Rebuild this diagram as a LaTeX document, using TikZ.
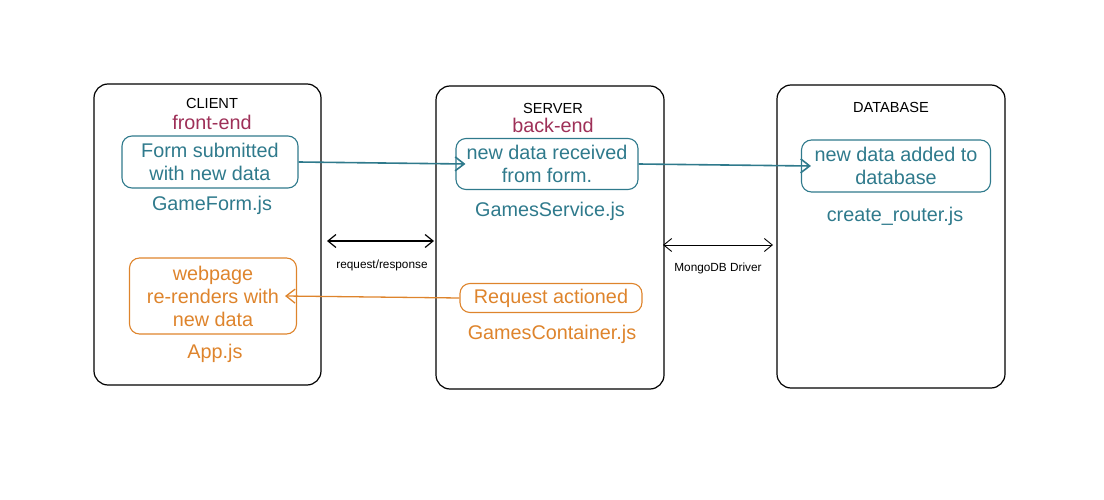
\documentclass[tikz,border=0pt]{standalone}
\usepackage{fontspec}
\setmainfont{Liberation Sans}
\usetikzlibrary{arrows.meta}
\definecolor{tealc}{RGB}{47,122,140}
\definecolor{orangec}{RGB}{222,132,44}
\definecolor{maroonc}{RGB}{158,48,88}

\begin{document}
\begin{tikzpicture}[x=1pt, y=-1pt,
    tier/.style={draw, line width=1.2pt, rounded corners=14pt},
    step box/.style={draw, line width=1.1pt, rounded corners=10pt, align=center,
      font=\fontsize{19.8}{23}\selectfont, inner sep=0pt},
    flabel/.style={font=\fontsize{19.8}{22}\selectfont},
    tlabel/.style={font=\fontsize{14.6}{16}\selectfont},
    plabel/.style={font=\fontsize{11.8}{13}\selectfont},
    tip/.style={-{Straight Barb[length=9pt,width=14pt]}},
    dtip/.style={{Straight Barb[length=8pt,width=13pt]}-{Straight Barb[length=8pt,width=13pt]}}]
  \useasboundingbox (0,0) rectangle (1104,500);

  % the three tiers
  \draw[tier] (94,84) rectangle (321,385);
  \draw[tier] (436,86) rectangle (664,389);
  \draw[tier] (777,85) rectangle (1005,388);

  % tier titles
  \node[tlabel] (client) at (212,103) {CLIENT};
  \node[flabel, color=maroonc] (front) at (212,122) {front-end};
  \node[tlabel] (server) at (553,108) {SERVER};
  \node[flabel, color=maroonc] (back) at (553,125) {back-end};
  \node[tlabel] (db) at (891,107) {DATABASE};

  % teal steps
  \node[step box, color=tealc, minimum width=176pt, minimum height=52pt]
    (form) at (210,162) {Form submitted\\with new data};
  \node[flabel, color=tealc] (gameform) at (212,205) {GameForm.js};
  \node[step box, color=tealc, minimum width=182pt, minimum height=51pt]
    (recv) at (547,164) {new data received\\from form.};
  \node[flabel, color=tealc] (service) at (550,211) {GamesService.js};
  \node[step box, color=tealc, minimum width=189pt, minimum height=52pt]
    (added) at (896,166) {new data added to\\database};
  \node[flabel, color=tealc] (router) at (895,216) {create\_router.js};

  % orange steps
  \node[step box, color=orangec, minimum width=167pt, minimum height=76pt]
    (render) at (213,296) {webpage\\re-renders with\\new data};
  \node[flabel, color=orangec] (app) at (215,353) {App.js};
  \node[step box, color=orangec, minimum width=182pt, minimum height=29pt]
    (action) at (551,298) {Request actioned};
  \node[flabel, color=orangec] (container) at (552,334) {GamesContainer.js};

  % flow arrows
  \draw[tip, color=tealc, line width=1.6pt] (form.east) -- ([xshift=10pt]recv.west);
  \draw[tip, color=tealc, line width=1.6pt] (recv.east) -- ([xshift=10pt]added.west);
  \draw[tip, color=orangec, line width=1.3pt] (action.west) -- ([xshift=-12pt]render.east);

  % links between tiers
  \coordinate (rq1) at (327,241);
  \coordinate (rq2) at (434,241);
  \draw[dtip, line width=1.2pt] (rq1) -- (rq2);
  \node[plabel] (rqlabel) at (382,265) {request/response};
  \coordinate (md1) at (663,245);
  \coordinate (md2) at (773,245);
  \draw[dtip, line width=0.9pt] (md1) -- (md2);
  \node[plabel] (mdlabel) at (718,268) {MongoDB Driver};
\end{tikzpicture}
\end{document}
